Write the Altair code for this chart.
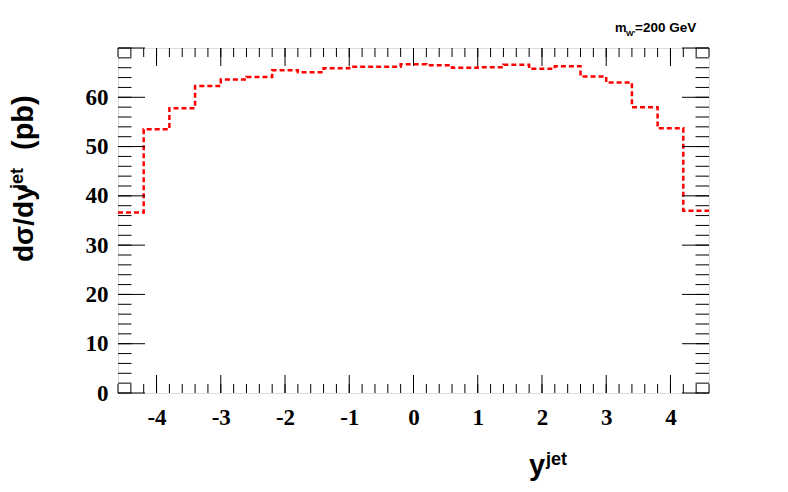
import altair as alt
import pandas as pd

# Histogram bins (low edges) and contents, d sigma / dy^jet in pb
bin_low = [-4.6, -4.2, -3.8, -3.4, -3.0, -2.6, -2.2, -1.8, -1.4, -1.0, -0.6, -0.2,
           0.2, 0.6, 1.0, 1.4, 1.8, 2.2, 2.6, 3.0, 3.4, 3.8, 4.2]
bin_high_last = 4.6
xsec = [36.6, 53.5, 57.8, 62.3, 63.6, 64.1, 65.5, 65.1, 65.9, 66.2, 66.2, 66.7,
        66.5, 66.0, 66.1, 66.6, 65.8, 66.3, 64.2, 63.0, 58.0, 53.7, 37.0]

x_labels = [-4, -3, -2, -1, 0, 1, 2, 3, 4]
y_labels = [0, 10, 20, 30, 40, 50, 60]
x_minor = [round(-4.6 + 0.2 * i, 1) for i in range(47)]
y_minor = [2 * i for i in range(36)]
x_major = x_labels
y_major = [0, 10, 20, 30, 40, 50, 60, 70]

x_domain = [-4.6, 4.6]
y_domain = [0, 70]

W, H = 591, 345

df = pd.DataFrame({"x": bin_low + [bin_high_last], "y": xsec + [xsec[-1]]})

xscale = alt.Scale(domain=x_domain, nice=False, zero=False)
yscale = alt.Scale(domain=y_domain, nice=False, zero=False)

lab_font = "Liberation Serif"
xax = alt.Axis(values=x_labels, ticks=False, domain=False, grid=False, title=None,
               labelFont=lab_font, labelFontWeight="bold", labelFontSize=23,
               labelColor="black", labelPadding=13, labelExpr="datum.value + ''")
yax = alt.Axis(values=y_labels, ticks=False, domain=False, grid=False, title=None,
               labelFont=lab_font, labelFontWeight="bold", labelFontSize=23,
               labelColor="black", labelPadding=10, labelExpr="datum.value + ''")

line = alt.Chart(df).mark_line(
    interpolate="step-after", color="#ff0000", strokeWidth=2.5, strokeDash=[5, 3]
).encode(
    x=alt.X("x:Q", scale=xscale, axis=xax),
    y=alt.Y("y:Q", scale=yscale, axis=yax),
)

def xticks(vals, length):
    d = pd.DataFrame({"x": vals})
    bot = alt.Chart(d).mark_rule(color="black", strokeWidth=1).encode(
        x=alt.X("x:Q", scale=xscale, axis=xax), y=alt.value(H), y2=alt.value(H - length))
    top = alt.Chart(d).mark_rule(color="black", strokeWidth=1).encode(
        x=alt.X("x:Q", scale=xscale, axis=xax), y=alt.value(0), y2=alt.value(length))
    return [bot, top]

def yticks(vals, length):
    d = pd.DataFrame({"y": vals})
    left = alt.Chart(d).mark_rule(color="black", strokeWidth=1).encode(
        y=alt.Y("y:Q", scale=yscale, axis=yax), x=alt.value(0), x2=alt.value(length))
    right = alt.Chart(d).mark_rule(color="black", strokeWidth=1).encode(
        y=alt.Y("y:Q", scale=yscale, axis=yax), x=alt.value(W), x2=alt.value(W - length))
    return [left, right]

ticks = xticks(x_minor, 9) + xticks(x_major, 18) + yticks(y_minor, 13.5) + yticks(y_major, 27)

def txt(s, x, y, size, angle=0, font="Liberation Sans", align="left"):
    return alt.Chart(pd.DataFrame({"t": [s]})).mark_text(
        font=font, fontWeight="bold", fontSize=size, angle=angle, align=align,
        baseline="alphabetic", color="black"
    ).encode(text="t:N", x=alt.value(x), y=alt.value(y))

ytitle_main = "dσ/dy"
ytitle_sup = "jet"
ytitle_unit = "(pb)"
xtitle_main = "y"
xtitle_sup = "jet"
label_m = "m"
label_sub = "W'"
label_rest = "=200 GeV"

texts = [
    txt(ytitle_main, -85, 214, 28, angle=270),
    txt(ytitle_sup, -95, 141, 18, angle=270),
    txt(ytitle_unit, -85, 102, 29, angle=270),
    txt(xtitle_main, 411, 427, 29),
    txt(xtitle_sup, 428, 417, 18),
    txt(label_m, 497, -16, 13),
    txt(label_sub, 508, -12, 8),
    txt(label_rest, 517, -16, 13.5),
]

chart = alt.layer(line, *ticks, *texts).properties(
    width=W, height=H,
    padding={"left": 110, "top": 40, "right": 70, "bottom": 90},
    autosize=alt.AutoSizeParams(type="none"),
).configure_view(stroke="black", strokeWidth=1).configure(background="white")

chart.save("out.html", embed_options={"renderer": "svg", "actions": False})
